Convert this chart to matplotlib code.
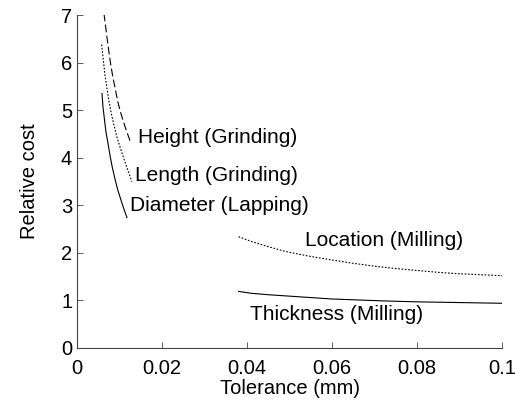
import matplotlib
matplotlib.use("Agg")
import matplotlib.pyplot as plt

plt.rcParams['font.family'] = ['Liberation Sans', 'DejaVu Sans']

# Data (tolerance in mm, relative cost)
height_x = [0.00635, 0.0073, 0.0079, 0.00847, 0.0091, 0.00965, 0.0103, 0.01106, 0.0115, 0.0127]
height_y = [7.03, 6.36, 5.98, 5.68, 5.40, 5.16, 4.94, 4.72, 4.60, 4.30]
length_x = [0.0058, 0.0066, 0.0075, 0.0081, 0.0087, 0.0095, 0.0104, 0.0111, 0.0118, 0.0129]
length_y = [6.38, 5.72, 5.20, 4.92, 4.68, 4.40, 4.15, 3.96, 3.78, 3.50]
diameter_x = [0.00588, 0.0061, 0.0064, 0.0068, 0.0073, 0.00776, 0.0083, 0.00894, 0.0096, 0.01035, 0.011, 0.01176]
diameter_y = [5.35, 5.08, 4.85, 4.55, 4.30, 4.05, 3.80, 3.55, 3.32, 3.11, 2.93, 2.74]
location_x = [0.038, 0.041, 0.045, 0.049, 0.054, 0.06, 0.065, 0.07, 0.075, 0.08, 0.085, 0.09, 0.1]
location_y = [2.34, 2.24, 2.13, 2.03, 1.94, 1.85, 1.78, 1.72, 1.67, 1.63, 1.59, 1.56, 1.52]
thickness_x = [0.038, 0.041, 0.045, 0.05, 0.055, 0.06, 0.066, 0.072, 0.08, 0.09, 0.1]
thickness_y = [1.19, 1.15, 1.12, 1.09, 1.06, 1.03, 1.01, 0.99, 0.97, 0.955, 0.94]

labels = ["Height (Grinding)", "Length (Grinding)", "Diameter (Lapping)",
          "Location (Milling)", "Thickness (Milling)"]
label_pos = [(0.0143, 4.43), (0.0136, 3.63), (0.0125, 2.99),
             (0.0537, 2.26), (0.0406, 0.70)]

fig = plt.figure(figsize=(5.15, 4.07), dpi=100)
ax = fig.add_axes([0.1495, 0.145, 0.8255, 0.818])

ax.plot(height_x, height_y, color='black', lw=0.8, dashes=(7, 3))
ax.plot(length_x, length_y, color='black', lw=0.8, dashes=(1.5, 1.5))
ax.plot(diameter_x, diameter_y, color='black', lw=0.8)
ax.plot(location_x, location_y, color='black', lw=0.8, dashes=(1.5, 1.5))
ax.plot(thickness_x, thickness_y, color='black', lw=0.8)

for text, (tx, ty) in zip(labels, label_pos):
    ax.text(tx, ty, text, fontsize=15, ha='left', va='center')

ax.set_xlim(0, 0.1)
ax.set_ylim(0, 7)
ax.set_xticks([0, 0.02, 0.04, 0.06, 0.08, 0.1])
ax.set_xticklabels(['0', '0.02', '0.04', '0.06', '0.08', '0.1'])
ax.set_yticks(range(8))
ax.tick_params(direction='in', labelsize=14.5, length=4, width=0.6, colors='#444444',
               labelcolor='black')
ax.tick_params(axis='x', pad=8)
for side in ['top', 'right']:
    ax.spines[side].set_visible(False)
for side in ['left', 'bottom']:
    ax.spines[side].set_color('#444444')
    ax.spines[side].set_linewidth(0.8)

ax.set_xlabel('Tolerance (mm)', fontsize=14.5, labelpad=1)
ax.set_ylabel('Relative cost', fontsize=14.5, labelpad=16)

fig.savefig('out.png', dpi=100)
